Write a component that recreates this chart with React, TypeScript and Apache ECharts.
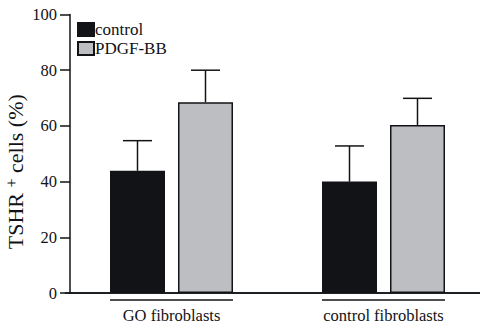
import React, { useEffect, useRef } from "react";
import * as echarts from "echarts";

const categories = ["GO fibroblasts", "control fibroblasts"];
const seriesNames = ["control", "PDGF-BB"];
const controlMean = [43.9, 40.0];
const controlUpper = [54.7, 52.8];
const pdgfMean = [68.5, 60.3];
const pdgfUpper = [80.0, 69.9];
const yMin = 0;
const yMax = 100;
const yStep = 20;

const FONT = "Liberation Serif";
const INK = "#111316";
const GRAY = "#BDBEC1";
const BAR_W = 55;
const GAP_PX = 13;
const CAP = 29;

export default function App() {
  const ref = useRef<HTMLDivElement>(null);
  useEffect(() => {
    const chart = echarts.init(ref.current!, null, { renderer: "svg" });
    const offset = (BAR_W + GAP_PX) / 2;
    const errSeries = (name: string, mean: number[], upper: number[], dir: number) => ({
      type: "custom",
      name: name + "-err",
      xAxisIndex: 0,
      yAxisIndex: 0,
      z: 5,
      data: categories.map((_, i) => [i, mean[i], upper[i]]),
      encode: { x: 0, y: [1, 2] },
      renderItem: (params: any, api: any) => {
        const c = api.coord([api.value(0), api.value(1)]);
        const u = api.coord([api.value(0), api.value(2)]);
        const x = c[0] + dir * offset;
        const st = { stroke: INK, lineWidth: 1.5 };
        return {
          type: "group",
          children: [
            { type: "line", shape: { x1: x, y1: c[1], x2: x, y2: u[1] }, style: st },
            { type: "line", shape: { x1: x - CAP / 2, y1: u[1], x2: x + CAP / 2, y2: u[1] }, style: st },
          ],
        };
      },
    });
    chart.setOption({
      animation: false,
      textStyle: { fontFamily: FONT, color: INK },
      grid: [
        { left: 65.5, top: 14.5, width: 424, bottom: 35, outerBoundsMode: "none", containLabel: false },
        { left: 70, top: 14.5, right: 0, bottom: 35, outerBoundsMode: "none", containLabel: false },
      ],
      legend: {
        data: seriesNames,
        orient: "vertical",
        left: 77,
        top: 21,
        padding: 0,
        icon: "rect",
        itemWidth: 16,
        itemHeight: 13,
        itemGap: 2,
        textStyle: { fontFamily: FONT, fontSize: 17, lineHeight: 15, color: INK, padding: [0, 0, 0, -4] },
      },
      xAxis: [
        {
          type: "category",
          gridIndex: 0,
          data: categories,
          axisLine: { lineStyle: { color: INK, width: 1.5 } },
          axisTick: { show: false },
          axisLabel: { fontFamily: FONT, fontSize: 16.5, color: INK, margin: 14 },
        },
        {
          type: "value",
          gridIndex: 1,
          position: "top",
          min: 0,
          max: 1,
          axisLine: { show: true, lineStyle: { color: INK, width: 1.5 } },
          axisTick: { show: false },
          axisLabel: { show: false },
          splitLine: { show: false },
        },
      ],
      yAxis: [
        {
          type: "value",
          gridIndex: 0,
          min: yMin,
          max: yMax,
          interval: yStep,
          show: false,
        },
        {
          type: "value",
          gridIndex: 1,
          min: yMin,
          max: yMax,
          interval: yStep,
          name: "{a|TSHR }{b|+}{a| cells (%)}",
          nameLocation: "middle",
          nameRotate: 90,
          nameGap: 42,
          nameMoveOverlap: false,
          nameTextStyle: {
            padding: [0, 36, 0, 0],
            rich: {
              a: { fontFamily: FONT, fontSize: 22, color: INK },
              b: { fontFamily: FONT, fontSize: 16, color: INK, padding: [0, 0, 9, 0] },
            },
          },
          axisLine: { show: true, lineStyle: { color: INK, width: 1.5 } },
          axisTick: { show: true, length: 10, lineStyle: { color: INK, width: 1.5 } },
          axisLabel: { fontFamily: FONT, fontSize: 16.5, color: INK, margin: 13 },
          splitLine: { show: false },
        },
      ],
      series: [
        {
          type: "bar",
          name: seriesNames[0],
          xAxisIndex: 0,
          yAxisIndex: 0,
          data: controlMean,
          barWidth: BAR_W,
          barGap: (GAP_PX / BAR_W) * 100 + "%",
          itemStyle: { color: INK, borderColor: INK, borderWidth: 1.5 },
        },
        {
          type: "bar",
          name: seriesNames[1],
          xAxisIndex: 0,
          yAxisIndex: 0,
          data: pdgfMean,
          barWidth: BAR_W,
          itemStyle: { color: GRAY, borderColor: INK, borderWidth: 1.5 },
        },
        errSeries(seriesNames[0], controlMean, controlUpper, -1),
        errSeries(seriesNames[1], pdgfMean, pdgfUpper, 1),
        {
          type: "custom",
          name: "group-lines",
          xAxisIndex: 0,
          yAxisIndex: 0,
          clip: false,
          data: categories.map((_, i) => [i, 0]),
          encode: { x: 0, y: 1 },
          renderItem: (params: any, api: any) => {
            const p = api.coord([api.value(0), 0]);
            const half = BAR_W + GAP_PX / 2;
            return {
              type: "line",
              shape: { x1: p[0] - half, y1: p[1] + 7, x2: p[0] + half, y2: p[1] + 7 },
              style: { stroke: INK, lineWidth: 1.5 },
            };
          },
        },
      ],
    });
    return () => chart.dispose();
  }, []);
  return (
    <div
      ref={ref}
      style={{ position: "absolute", left: 0, top: 0, width: 480, height: 328 }}
    />
  );
}
